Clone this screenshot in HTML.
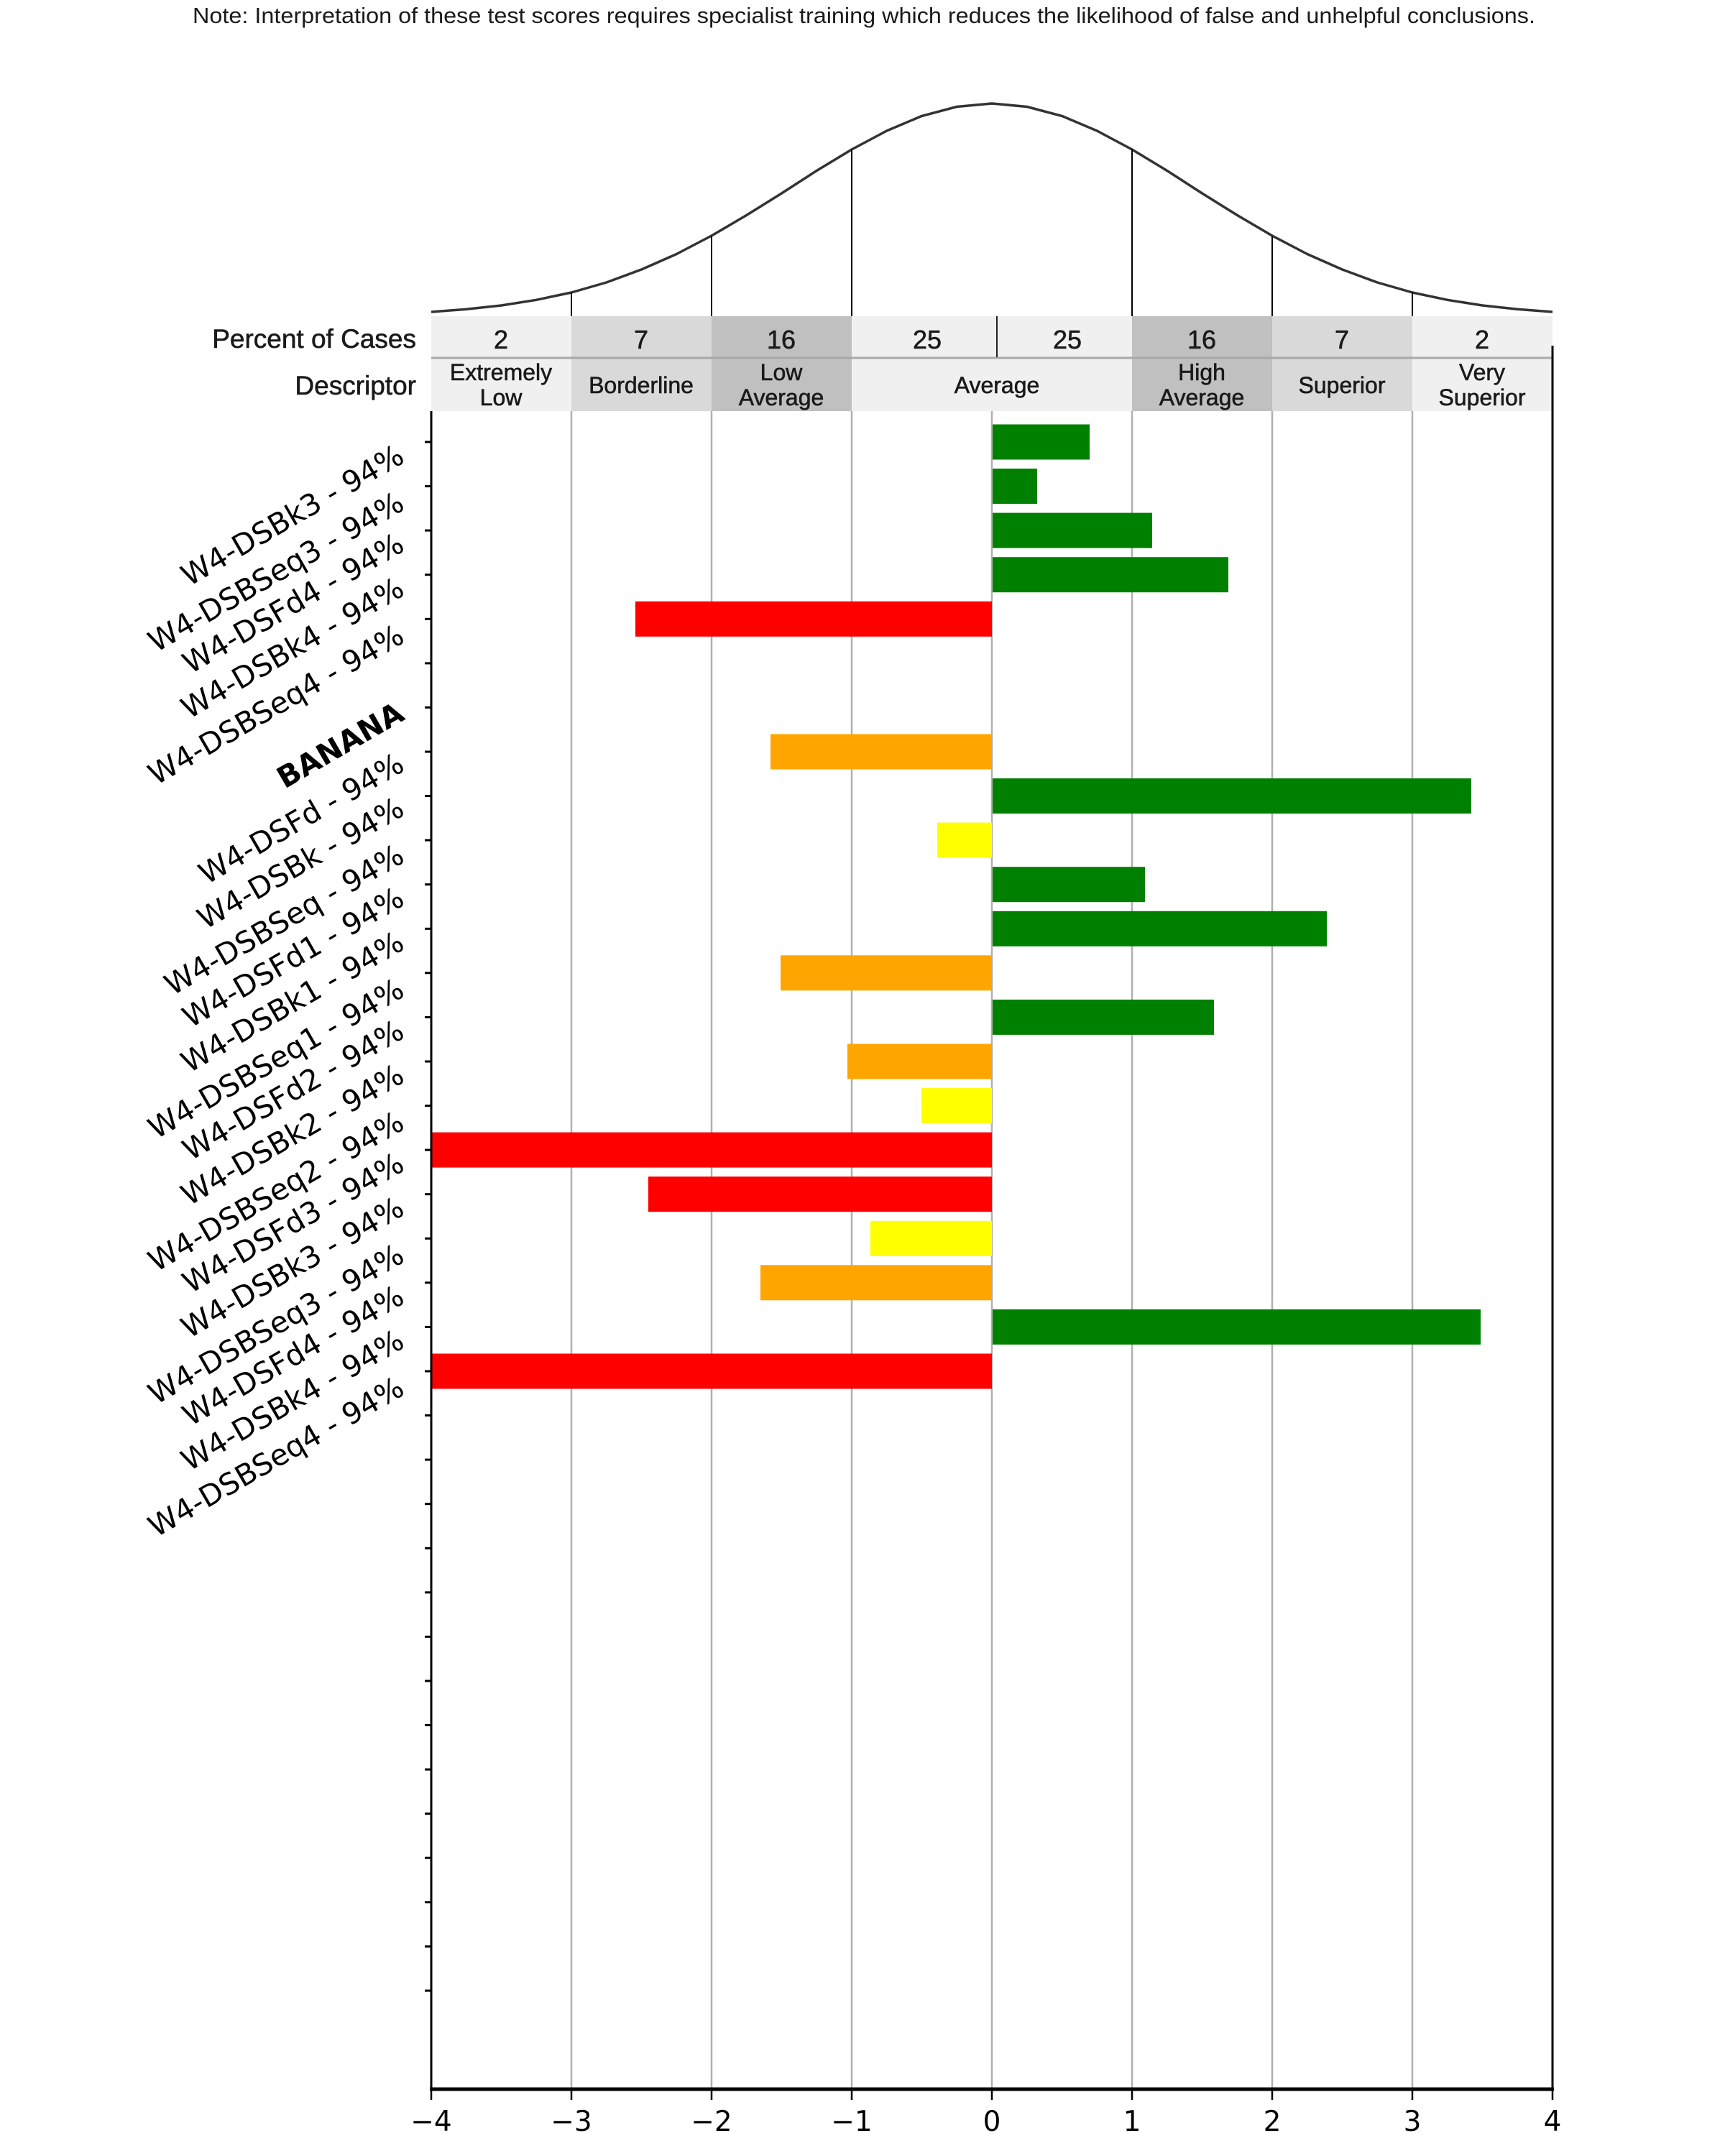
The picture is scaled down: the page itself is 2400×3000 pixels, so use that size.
<!DOCTYPE html>
<html><head><meta charset="utf-8"><style>
html,body{margin:0;padding:0;background:#fff;width:2400px;height:3000px;overflow:hidden}
svg{display:block}
.lab{font-family:"DejaVu Sans",sans-serif;font-size:41px;fill:#000}
.tb{font-family:"Liberation Sans",Arial,sans-serif;fill:#1a1a1a}
</style></head><body>
<svg width="2400" height="3000" viewBox="0 0 2400 3000" xmlns="http://www.w3.org/2000/svg">
<rect width="2400" height="3000" fill="#fff"/>
<text class="tb" x="268" y="32" font-size="31" textLength="1868" lengthAdjust="spacingAndGlyphs">Note: Interpretation of these test scores requires specialist training which reduces the likelihood of false and unhelpful conclusions.</text>

<polyline fill="none" stroke="#333" stroke-width="3.5" stroke-linejoin="round" points="600,434 648.75,430.3 697.5,425 746.25,417.3 795,407 843.75,393 892.5,375 941.25,353.5 990,328 1038.75,299.4 1087.5,269 1136.25,237.5 1185,208 1233.75,182 1282.5,161.4 1331.25,148.5 1380,144 1428.75,148.5 1477.5,161.4 1526.25,182 1575,208 1623.75,237.5 1672.5,269 1721.25,299.4 1770,328 1818.75,353.5 1867.5,375 1916.25,393 1965,407 2013.75,417.3 2062.5,425 2111.25,430.3 2160,434"/>
<g stroke="#000" stroke-width="2">
<line x1="795" y1="407" x2="795" y2="440"/>
<line x1="990" y1="328" x2="990" y2="440"/>
<line x1="1185" y1="208" x2="1185" y2="440"/>
<line x1="1575" y1="208" x2="1575" y2="440"/>
<line x1="1770" y1="328" x2="1770" y2="440"/>
<line x1="1965" y1="407" x2="1965" y2="440"/>
</g>

<rect x="600" y="440" width="195" height="132" fill="#f0f0f0"/>
<rect x="795" y="440" width="195" height="132" fill="#d9d9d9"/>
<rect x="990" y="440" width="195" height="132" fill="#c0c0c0"/>
<rect x="1185" y="440" width="390" height="132" fill="#f0f0f0"/>
<rect x="1575" y="440" width="195" height="132" fill="#c0c0c0"/>
<rect x="1770" y="440" width="195" height="132" fill="#d9d9d9"/>
<rect x="1965" y="440" width="195" height="132" fill="#f0f0f0"/>
<line x1="600" y1="498" x2="2160" y2="498" stroke="#a8a8a8" stroke-width="3"/>
<line x1="1387" y1="440" x2="1387" y2="497" stroke="#222" stroke-width="2"/>
<g class="tb" stroke="#1a1a1a" stroke-width="0.6">
<text x="579" y="484" font-size="37" text-anchor="end">Percent of Cases</text>
<text x="579" y="549" font-size="37" text-anchor="end">Descriptor</text>
<g font-size="36" text-anchor="middle">
<text x="697" y="485">2</text><text x="892" y="485">7</text><text x="1087" y="485">16</text>
<text x="1290" y="485">25</text><text x="1485" y="485">25</text><text x="1672" y="485">16</text>
<text x="1867" y="485">7</text><text x="2062" y="485">2</text>
</g>
<g font-size="32" text-anchor="middle">
<text x="697" y="529">Extremely</text><text x="697" y="564">Low</text>
<text x="892" y="547">Borderline</text>
<text x="1087" y="529">Low</text><text x="1087" y="564">Average</text>
<text x="1387" y="547">Average</text>
<text x="1672" y="529">High</text><text x="1672" y="564">Average</text>
<text x="1867" y="547">Superior</text>
<text x="2062" y="529">Very</text><text x="2062" y="564">Superior</text>
</g>
</g>

<g stroke="#b0b0b0" stroke-width="2.5">
<line x1="795" y1="572" x2="795" y2="2907"/>
<line x1="990" y1="572" x2="990" y2="2907"/>
<line x1="1185" y1="572" x2="1185" y2="2907"/>
<line x1="1380" y1="572" x2="1380" y2="2907"/>
<line x1="1575" y1="572" x2="1575" y2="2907"/>
<line x1="1770" y1="572" x2="1770" y2="2907"/>
<line x1="1965" y1="572" x2="1965" y2="2907"/>
</g>

<g>
<rect x="1381" y="590.5" width="135" height="49" fill="#008000"/>
<rect x="1381" y="652.1" width="62" height="49" fill="#008000"/>
<rect x="1381" y="713.6" width="222" height="49" fill="#008000"/>
<rect x="1381" y="775.2" width="328" height="49" fill="#008000"/>
<rect x="884" y="836.8" width="496" height="49" fill="#ff0000"/>
<rect x="1072" y="1021.5" width="308" height="49" fill="#ffa500"/>
<rect x="1381" y="1083.1" width="666" height="49" fill="#008000"/>
<rect x="1304" y="1144.6" width="76" height="49" fill="#ffff00"/>
<rect x="1381" y="1206.2" width="212" height="49" fill="#008000"/>
<rect x="1381" y="1267.8" width="465" height="49" fill="#008000"/>
<rect x="1086" y="1329.3" width="294" height="49" fill="#ffa500"/>
<rect x="1381" y="1390.9" width="308" height="49" fill="#008000"/>
<rect x="1179" y="1452.5" width="201" height="49" fill="#ffa500"/>
<rect x="1282" y="1514.1" width="98" height="49" fill="#ffff00"/>
<rect x="600" y="1575.6" width="780" height="49" fill="#ff0000"/>
<rect x="902" y="1637.2" width="478" height="49" fill="#ff0000"/>
<rect x="1211" y="1698.8" width="169" height="49" fill="#ffff00"/>
<rect x="1058" y="1760.3" width="322" height="49" fill="#ffa500"/>
<rect x="1381" y="1821.9" width="679" height="49" fill="#008000"/>
<rect x="600" y="1883.5" width="780" height="49" fill="#ff0000"/>
</g>

<line x1="600" y1="572" x2="600" y2="2909" stroke="#000" stroke-width="3"/>
<line x1="2160" y1="481" x2="2160" y2="2909" stroke="#000" stroke-width="3"/>
<line x1="598" y1="2907" x2="2162" y2="2907" stroke="#000" stroke-width="5"/>

<g stroke="#000" stroke-width="3">
<line x1="591" x2="600" y1="615" y2="615"/><line x1="591" x2="600" y1="676.6" y2="676.6"/><line x1="591" x2="600" y1="738.1" y2="738.1"/><line x1="591" x2="600" y1="799.7" y2="799.7"/><line x1="591" x2="600" y1="861.3" y2="861.3"/><line x1="591" x2="600" y1="922.9" y2="922.9"/><line x1="591" x2="600" y1="984.4" y2="984.4"/><line x1="591" x2="600" y1="1046" y2="1046"/><line x1="591" x2="600" y1="1107.6" y2="1107.6"/><line x1="591" x2="600" y1="1169.1" y2="1169.1"/><line x1="591" x2="600" y1="1230.7" y2="1230.7"/><line x1="591" x2="600" y1="1292.3" y2="1292.3"/><line x1="591" x2="600" y1="1353.8" y2="1353.8"/><line x1="591" x2="600" y1="1415.4" y2="1415.4"/><line x1="591" x2="600" y1="1477" y2="1477"/><line x1="591" x2="600" y1="1538.6" y2="1538.6"/><line x1="591" x2="600" y1="1600.1" y2="1600.1"/><line x1="591" x2="600" y1="1661.7" y2="1661.7"/><line x1="591" x2="600" y1="1723.3" y2="1723.3"/><line x1="591" x2="600" y1="1784.8" y2="1784.8"/><line x1="591" x2="600" y1="1846.4" y2="1846.4"/><line x1="591" x2="600" y1="1908" y2="1908"/><line x1="591" x2="600" y1="1969.5" y2="1969.5"/><line x1="591" x2="600" y1="2031.1" y2="2031.1"/><line x1="591" x2="600" y1="2092.7" y2="2092.7"/><line x1="591" x2="600" y1="2154.3" y2="2154.3"/><line x1="591" x2="600" y1="2215.8" y2="2215.8"/><line x1="591" x2="600" y1="2277.4" y2="2277.4"/><line x1="591" x2="600" y1="2339" y2="2339"/><line x1="591" x2="600" y1="2400.5" y2="2400.5"/><line x1="591" x2="600" y1="2462.1" y2="2462.1"/><line x1="591" x2="600" y1="2523.7" y2="2523.7"/><line x1="591" x2="600" y1="2585.2" y2="2585.2"/><line x1="591" x2="600" y1="2646.8" y2="2646.8"/><line x1="591" x2="600" y1="2708.4" y2="2708.4"/><line x1="591" x2="600" y1="2770" y2="2770"/>
</g>

<g stroke="#000" stroke-width="2.5">
<line x1="600" x2="600" y1="2907" y2="2922"/><line x1="795" x2="795" y1="2907" y2="2922"/><line x1="990" x2="990" y1="2907" y2="2922"/><line x1="1185" x2="1185" y1="2907" y2="2922"/><line x1="1380" x2="1380" y1="2907" y2="2922"/><line x1="1575" x2="1575" y1="2907" y2="2922"/><line x1="1770" x2="1770" y1="2907" y2="2922"/><line x1="1965" x2="1965" y1="2907" y2="2922"/><line x1="2160" x2="2160" y1="2907" y2="2922"/>
</g>
<g font-family="DejaVu Sans,sans-serif" font-size="39" text-anchor="middle" fill="#000">
<text x="600" y="2965">−4</text><text x="795" y="2965">−3</text><text x="990" y="2965">−2</text><text x="1185" y="2965">−1</text><text x="1380" y="2965">0</text><text x="1575" y="2965">1</text><text x="1770" y="2965">2</text><text x="1965" y="2965">3</text><text x="2160" y="2965">4</text>
</g>

<g class="lab" text-anchor="end">
<text transform="translate(565,642) rotate(-30)">W4-DSBk3 - 94%</text>
<text transform="translate(565,707.6) rotate(-30)">W4-DSBSeq3 - 94%</text>
<text transform="translate(565,765) rotate(-30)">W4-DSFd4 - 94%</text>
<text transform="translate(565,826.7) rotate(-30)">W4-DSBk4 - 94%</text>
<text transform="translate(565,892.3) rotate(-30)">W4-DSBSeq4 - 94%</text>
<text transform="translate(565,1000.4) rotate(-30)" font-weight="bold">BANANA</text>
<text transform="translate(565,1071) rotate(-30)">W4-DSFd - 94%</text>
<text transform="translate(565,1132.6) rotate(-30)">W4-DSBk - 94%</text>
<text transform="translate(565,1198.1) rotate(-30)">W4-DSBSeq - 94%</text>
<text transform="translate(565,1257.7) rotate(-30)">W4-DSFd1 - 94%</text>
<text transform="translate(565,1319.3) rotate(-30)">W4-DSBk1 - 94%</text>
<text transform="translate(565,1384.8) rotate(-30)">W4-DSBSeq1 - 94%</text>
<text transform="translate(565,1442.4) rotate(-30)">W4-DSFd2 - 94%</text>
<text transform="translate(565,1504) rotate(-30)">W4-DSBk2 - 94%</text>
<text transform="translate(565,1569.6) rotate(-30)">W4-DSBSeq2 - 94%</text>
<text transform="translate(565,1627.1) rotate(-30)">W4-DSFd3 - 94%</text>
<text transform="translate(565,1688.7) rotate(-30)">W4-DSBk3 - 94%</text>
<text transform="translate(565,1754.3) rotate(-30)">W4-DSBSeq3 - 94%</text>
<text transform="translate(565,1811.8) rotate(-30)">W4-DSFd4 - 94%</text>
<text transform="translate(565,1873.4) rotate(-30)">W4-DSBk4 - 94%</text>
<text transform="translate(565,1939) rotate(-30)">W4-DSBSeq4 - 94%</text>
</g>
</svg>
</body></html>
